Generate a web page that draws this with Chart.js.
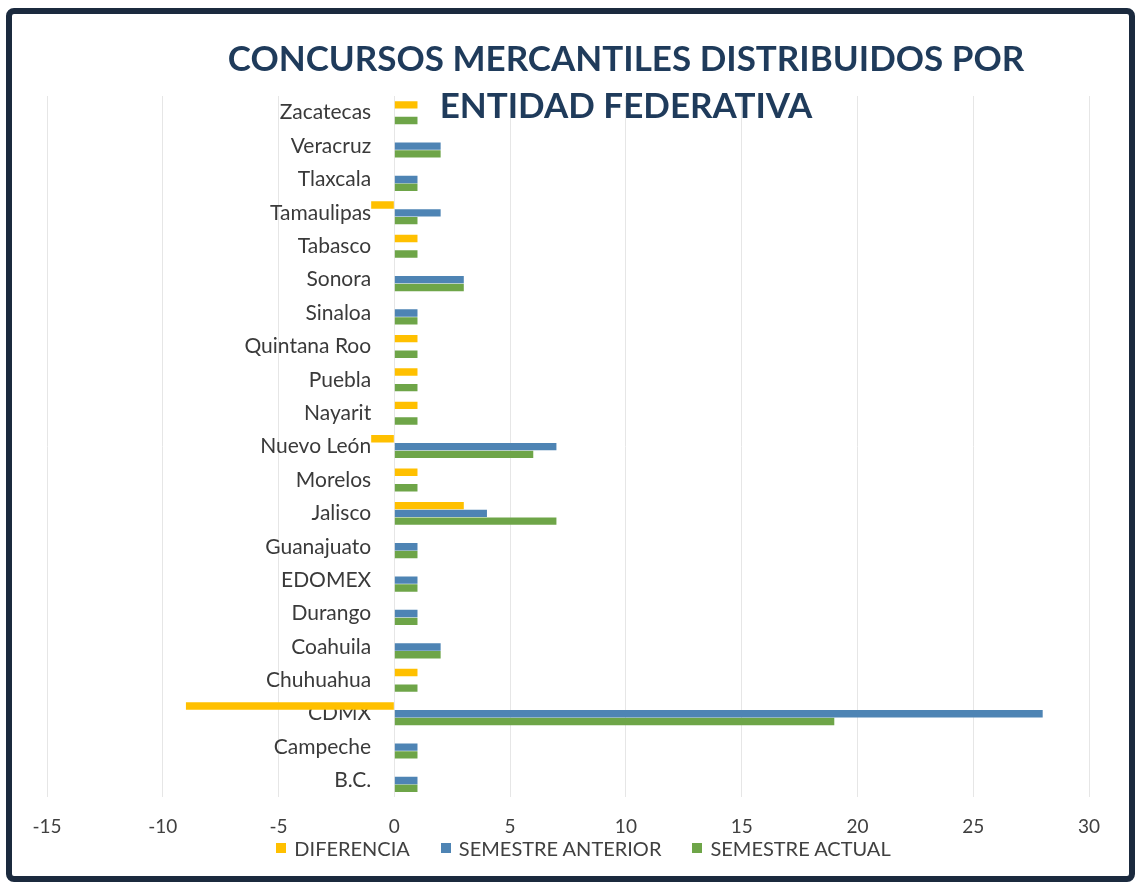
<!DOCTYPE html>
<html lang="es">
<head>
<meta charset="utf-8">
<title>Concursos mercantiles distribuidos por entidad federativa</title>
<script src="https://cdn.jsdelivr.net/npm/chart.js@4.4.1/dist/chart.umd.min.js"></script>
<style>
  html, body { margin: 0; padding: 0; background: #fff; }
  .marco {
    position: absolute; left: 6px; top: 8px;
    width: 1117px; height: 862px;
    border: 6px solid #1b2a3e; border-radius: 8px;
    background: #fff;
  }
  .grafica { position: absolute; left: 0; top: 0; width: 1117px; height: 862px; }
  .titulo {
    position: absolute; left: 614px; top: 20px;
    transform: translateX(-50%);
    white-space: nowrap; text-align: center;
    font-family: Lato, sans-serif; font-weight: 700;
    font-size: 35px; line-height: 47px; color: #1f3b5b;
    z-index: 2; pointer-events: none;
  }
  .leyenda {
    position: absolute; left: 13px; top: 822px; width: 1117px;
    display: flex; justify-content: center; gap: 31px;
    font-family: Lato, sans-serif; font-size: 20px; line-height: 24px; color: #404040;
  }
  .leyenda span { display: inline-flex; align-items: center; }
  .leyenda i { display: inline-block; width: 10px; height: 10px; margin-right: 8px; }
</style>
</head>
<body>
<div class="marco">
  <div class="titulo">CONCURSOS MERCANTILES DISTRIBUIDOS POR<br>ENTIDAD FEDERATIVA</div>
  <div class="grafica"><canvas id="concursos"></canvas></div>
  <div class="leyenda" id="leyenda"></div>
</div>
<script>
// entidades, de arriba hacia abajo
const estados = ['Zacatecas', 'Veracruz', 'Tlaxcala', 'Tamaulipas', 'Tabasco', 'Sonora', 'Sinaloa',
  'Quintana Roo', 'Puebla', 'Nayarit', 'Nuevo León', 'Morelos', 'Jalisco', 'Guanajuato', 'EDOMEX',
  'Durango', 'Coahuila', 'Chuhuahua', 'CDMX', 'Campeche', 'B.C.']
const diferencia = [1, 0, 0, -1, 1, 0, 0, 1, 1, 1, -1, 1, 3, 0, 0, 0, 0, 1, -9, 0, 0]
const semestreAnterior = [0, 2, 1, 2, 0, 3, 1, 0, 0, 0, 7, 0, 4, 1, 1, 1, 2, 0, 28, 1, 1]
const semestreActual = [1, 2, 1, 1, 1, 3, 1, 1, 1, 1, 6, 1, 7, 1, 1, 1, 2, 1, 19, 1, 1]
const ejeX = { min: -15, max: 30, paso: 5 }

Chart.defaults.font.family = 'Lato, sans-serif'
Chart.defaults.color = '#404040'

const ctx = document.getElementById('concursos')
const chart = new Chart(ctx, {
  type: 'bar',
  data: {
    labels: estados,
    datasets: [
      { label: 'DIFERENCIA', data: diferencia, backgroundColor: '#ffc000' },
      { label: 'SEMESTRE ANTERIOR', data: semestreAnterior, backgroundColor: '#4e84b4' },
      { label: 'SEMESTRE ACTUAL', data: semestreActual, backgroundColor: '#6ea548' }
    ]
  },
  options: {
    indexAxis: 'y',
    responsive: true,
    maintainAspectRatio: false,
    animation: false,
    datasets: {
      bar: { categoryPercentage: 0.7, barPercentage: 0.95 }
    },
    layout: {
      padding: { left: 35, right: 40, top: 82, bottom: 20 }
    },
    scales: {
      x: {
        min: ejeX.min,
        max: ejeX.max,
        ticks: { stepSize: ejeX.paso, font: { size: 19 }, padding: 18 },
        grid: { color: '#e6e6e6', drawTicks: false },
        border: { display: false }
      },
      y: {
        // etiquetas de entidad junto a la línea del cero
        position: { x: -1 },
        z: 1,
        grid: { display: false, drawTicks: false },
        border: { display: false },
        ticks: { font: { size: 21 }, padding: 0, color: '#3a3a3a' }
      }
    },
    plugins: {
      tooltip: { enabled: false },
      legend: { display: false }
    }
  }
})

// leyenda en HTML, pegada a los números del eje
const leyenda = document.getElementById('leyenda')
chart.data.datasets.forEach((ds) => {
  const item = document.createElement('span')
  const muestra = document.createElement('i')
  muestra.style.background = ds.backgroundColor
  item.appendChild(muestra)
  item.appendChild(document.createTextNode(ds.label))
  leyenda.appendChild(item)
})
</script>
</body>
</html>
